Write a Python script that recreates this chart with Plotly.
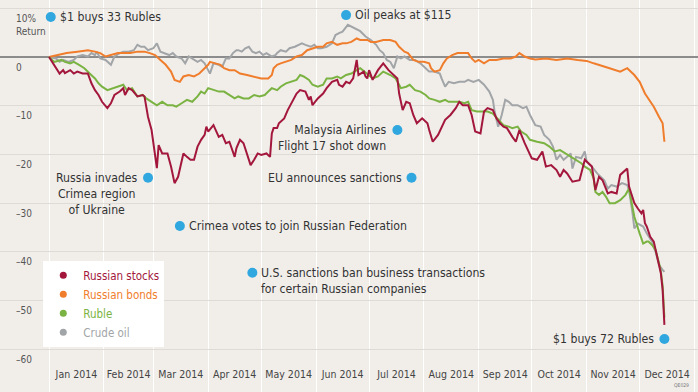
import plotly.graph_objects as go

# ---------------- data ----------------
stocks_dates = ["2014-01-01","2014-01-06","2014-01-07","2014-01-09","2014-01-10","2014-01-13","2014-01-15","2014-01-17","2014-01-20","2014-01-23","2014-01-25","2014-01-27","2014-01-29","2014-01-31","2014-02-03","2014-02-05","2014-02-07","2014-02-10","2014-02-12","2014-02-13","2014-02-15","2014-02-17","2014-02-20","2014-02-23","2014-02-24","2014-02-26","2014-02-28","2014-03-03","2014-03-04","2014-03-06","2014-03-09","2014-03-11","2014-03-13","2014-03-15","2014-03-18","2014-03-20","2014-03-22","2014-03-24","2014-03-26","2014-03-28","2014-03-30","2014-03-31","2014-04-01","2014-04-04","2014-04-07","2014-04-09","2014-04-11","2014-04-13","2014-04-16","2014-04-17","2014-04-19","2014-04-21","2014-04-23","2014-04-25","2014-04-27","2014-04-29","2014-05-01","2014-05-04","2014-05-06","2014-05-07","2014-05-08","2014-05-10","2014-05-11","2014-05-14","2014-05-16","2014-05-19","2014-05-21","2014-05-23","2014-05-26","2014-05-28","2014-05-29","2014-05-30","2014-06-02","2014-06-05","2014-06-07","2014-06-10","2014-06-13","2014-06-14","2014-06-16","2014-06-18","2014-06-20","2014-06-22","2014-06-24","2014-06-25","2014-06-28","2014-06-29","2014-06-30","2014-07-01","2014-07-03","2014-07-06","2014-07-09","2014-07-12","2014-07-15","2014-07-17","2014-07-18","2014-07-20","2014-07-22","2014-07-24","2014-07-26","2014-07-28","2014-07-31","2014-08-03","2014-08-04","2014-08-06","2014-08-09","2014-08-11","2014-08-13","2014-08-16","2014-08-19","2014-08-21","2014-08-23","2014-08-26","2014-08-28","2014-08-30","2014-09-02","2014-09-04","2014-09-06","2014-09-09","2014-09-11","2014-09-13","2014-09-15","2014-09-17","2014-09-19","2014-09-20","2014-09-22","2014-09-24","2014-09-27","2014-09-28","2014-10-01","2014-10-04","2014-10-07","2014-10-09","2014-10-12","2014-10-15","2014-10-17","2014-10-19","2014-10-21","2014-10-24","2014-10-28","2014-10-31","2014-11-02","2014-11-04","2014-11-06","2014-11-08","2014-11-10","2014-11-13","2014-11-15","2014-11-18","2014-11-20","2014-11-24","2014-11-25","2014-11-28","2014-11-30","2014-12-02","2014-12-03","2014-12-04","2014-12-05","2014-12-07","2014-12-09","2014-12-11","2014-12-13","2014-12-14","2014-12-15"]
stocks_values = [0,-2.7,-3.4,-2.7,-3.3,-2.7,-3.4,-3.0,-3.4,-3.4,-5.4,-6.8,-7.8,-9.2,-10.5,-9.5,-7.8,-7.1,-6.4,-7.8,-6.4,-6.8,-8.1,-7.8,-8.1,-12.3,-15.0,-22.8,-18.1,-19.8,-19.8,-22.5,-25.9,-24.6,-19.8,-20.5,-21.1,-21.1,-18.4,-17.0,-16.0,-14.3,-15.3,-14.0,-16.4,-16.0,-17.7,-17.4,-20.5,-18.7,-17.0,-17.7,-19.8,-22.2,-21.1,-19.8,-20.1,-19.8,-20.5,-15.7,-14.6,-14.6,-13.6,-12.6,-10.9,-8.8,-7.5,-6.8,-7.1,-8.8,-8.1,-9.9,-8.5,-7.5,-6.4,-5.1,-4.7,-5.7,-6.1,-5.1,-5.4,-4.4,-0.6,-3.7,-3.0,-4.0,-4.4,-2.7,-4.7,-2.7,-1.3,-2.7,-3.7,-4.4,-7.5,-10.9,-9.2,-9.5,-11.9,-13.6,-12.6,-13.6,-15.0,-17.4,-16.0,-14.3,-12.9,-11.9,-10.5,-9.2,-9.9,-9.9,-11.9,-15.3,-15.7,-11.2,-10.5,-10.9,-12.6,-13.6,-14.3,-14.6,-16.0,-16.4,-17.4,-15.0,-17.7,-18.4,-20.8,-21.1,-19.4,-22.5,-22.2,-23.2,-24.6,-23.2,-23.9,-25.6,-25.3,-21.1,-21.8,-22.5,-27.3,-24.6,-25.3,-28.0,-27.7,-28.0,-24.2,-22.9,-26.6,-30.0,-31.1,-32.1,-31.4,-34.1,-34.8,-36.9,-37.9,-41.0,-44.4,-47.8,-55.0]

bonds_dates = ["2014-01-01","2014-01-06","2014-01-11","2014-01-17","2014-01-23","2014-01-27","2014-01-30","2014-02-02","2014-02-05","2014-02-09","2014-02-12","2014-02-16","2014-02-20","2014-02-24","2014-02-27","2014-03-02","2014-03-05","2014-03-08","2014-03-11","2014-03-13","2014-03-16","2014-03-18","2014-03-21","2014-03-24","2014-03-27","2014-03-30","2014-04-01","2014-04-02","2014-04-05","2014-04-08","2014-04-10","2014-04-13","2014-04-16","2014-04-19","2014-04-23","2014-04-27","2014-05-01","2014-05-05","2014-05-07","2014-05-08","2014-05-10","2014-05-12","2014-05-15","2014-05-18","2014-05-21","2014-05-24","2014-05-27","2014-05-30","2014-06-02","2014-06-05","2014-06-07","2014-06-10","2014-06-13","2014-06-16","2014-06-18","2014-06-21","2014-06-24","2014-06-26","2014-06-30","2014-07-02","2014-07-05","2014-07-09","2014-07-13","2014-07-16","2014-07-18","2014-07-21","2014-07-23","2014-07-26","2014-07-29","2014-08-01","2014-08-04","2014-08-05","2014-08-07","2014-08-10","2014-08-12","2014-08-14","2014-08-17","2014-08-20","2014-08-24","2014-08-26","2014-08-28","2014-08-30","2014-09-01","2014-09-04","2014-09-07","2014-09-11","2014-09-15","2014-09-19","2014-09-22","2014-09-24","2014-09-27","2014-09-30","2014-10-03","2014-10-09","2014-10-15","2014-10-21","2014-10-27","2014-11-01","2014-11-05","2014-11-08","2014-11-14","2014-11-20","2014-11-24","2014-11-28","2014-12-01","2014-12-04","2014-12-06","2014-12-09","2014-12-12","2014-12-14","2014-12-15"]
bonds_values = [0,0.4,0.8,1.1,1.4,1.1,0.8,0.1,0.4,0.8,0.8,0.8,1.1,1.1,0.8,0.4,-0.6,-1.6,-3.0,-4.7,-5.1,-4.0,-3.7,-4.0,-3.4,-2.3,-1.6,-1.0,-1.3,-1.6,-2.3,-2.7,-2.7,-3.4,-3.7,-4.0,-4.4,-4.4,-3.7,-2.3,-1.6,-1.3,-1.0,-0.6,0.1,0.4,1.4,1.8,2.1,2.1,2.8,3.1,2.5,2.8,2.8,3.1,3.8,3.5,3.5,3.1,3.1,3.5,3.5,3.1,2.1,1.1,0.8,-0.6,-1.0,-1.0,-1.3,-2.3,-3.0,-2.7,-1.3,-0.3,0.4,0.8,0.8,0.8,-0.3,-1.0,-0.6,-1.3,-0.6,-0.6,-0.3,-0.3,0.1,0.8,0.1,-0.3,-0.5,-0.3,-0.6,-0.3,-0.6,-0.8,-1.3,-1.6,-2.3,-3.0,-2.3,-3.7,-5.1,-7.5,-8.5,-10.2,-12.3,-13.6,-17.4]

ruble_dates = ["2014-01-01","2014-01-04","2014-01-08","2014-01-10","2014-01-13","2014-01-15","2014-01-18","2014-01-21","2014-01-24","2014-01-27","2014-01-29","2014-01-31","2014-02-03","2014-02-06","2014-02-09","2014-02-12","2014-02-14","2014-02-17","2014-02-20","2014-02-23","2014-02-25","2014-02-28","2014-03-03","2014-03-06","2014-03-09","2014-03-12","2014-03-14","2014-03-17","2014-03-20","2014-03-23","2014-03-26","2014-03-28","2014-03-30","2014-04-01","2014-04-04","2014-04-07","2014-04-10","2014-04-13","2014-04-16","2014-04-18","2014-04-21","2014-04-24","2014-04-27","2014-04-30","2014-05-03","2014-05-05","2014-05-07","2014-05-10","2014-05-12","2014-05-15","2014-05-18","2014-05-21","2014-05-23","2014-05-25","2014-05-28","2014-05-30","2014-06-02","2014-06-05","2014-06-07","2014-06-10","2014-06-13","2014-06-15","2014-06-18","2014-06-21","2014-06-24","2014-06-26","2014-06-29","2014-07-03","2014-07-06","2014-07-09","2014-07-13","2014-07-16","2014-07-18","2014-07-19","2014-07-22","2014-07-24","2014-07-27","2014-07-30","2014-08-02","2014-08-04","2014-08-07","2014-08-10","2014-08-13","2014-08-15","2014-08-18","2014-08-21","2014-08-24","2014-08-26","2014-08-28","2014-08-31","2014-09-04","2014-09-06","2014-09-09","2014-09-12","2014-09-15","2014-09-18","2014-09-20","2014-09-23","2014-09-25","2014-09-28","2014-09-30","2014-10-04","2014-10-08","2014-10-11","2014-10-14","2014-10-17","2014-10-20","2014-10-23","2014-10-26","2014-10-29","2014-10-31","2014-11-03","2014-11-05","2014-11-06","2014-11-08","2014-11-10","2014-11-12","2014-11-14","2014-11-17","2014-11-20","2014-11-23","2014-11-25","2014-11-26","2014-11-28","2014-12-01","2014-12-03","2014-12-05","2014-12-06","2014-12-08","2014-12-10","2014-12-12","2014-12-13","2014-12-14","2014-12-15"]
ruble_values = [0,-1.0,-0.6,-1.0,-1.3,-1.0,-1.6,-2.3,-3.4,-4.4,-5.4,-6.1,-6.8,-6.4,-6.1,-5.7,-6.8,-6.4,-8.1,-7.8,-8.5,-9.2,-9.9,-9.2,-9.9,-9.9,-10.2,-9.5,-8.8,-9.2,-8.1,-7.1,-7.5,-6.4,-6.8,-7.1,-7.1,-7.8,-8.5,-8.1,-8.5,-8.5,-7.8,-8.1,-7.8,-7.1,-6.4,-6.8,-6.1,-5.4,-5.1,-4.7,-3.7,-4.0,-4.7,-5.7,-6.1,-5.7,-4.4,-4.4,-4.0,-4.4,-3.7,-3.4,-2.7,-2.3,-3.2,-4.4,-4.0,-3.0,-3.7,-4.4,-5.7,-6.4,-6.1,-5.7,-6.8,-7.1,-7.8,-8.5,-8.8,-9.2,-8.8,-9.2,-9.2,-9.2,-9.5,-9.2,-10.9,-11.2,-11.2,-11.2,-11.6,-12.9,-14.0,-14.3,-14.6,-14.3,-15.3,-16.0,-17.0,-17.4,-17.7,-18.4,-19.4,-19.1,-19.8,-20.5,-21.1,-21.8,-22.5,-23.2,-24.9,-27.7,-28.3,-27.7,-28.7,-30.0,-30.0,-29.4,-28.3,-27.0,-29.0,-32.8,-36.2,-38.3,-37.9,-37.9,-38.6,-39.6,-42.4,-44.0,-47.0,-53.5]

oil_dates = ["2014-01-01","2014-01-05","2014-01-07","2014-01-09","2014-01-12","2014-01-15","2014-01-17","2014-01-20","2014-01-23","2014-01-25","2014-01-27","2014-01-28","2014-01-30","2014-02-02","2014-02-05","2014-02-07","2014-02-10","2014-02-12","2014-02-15","2014-02-18","2014-02-20","2014-02-22","2014-02-24","2014-02-26","2014-03-01","2014-03-03","2014-03-05","2014-03-07","2014-03-10","2014-03-12","2014-03-14","2014-03-17","2014-03-19","2014-03-21","2014-03-24","2014-03-26","2014-03-28","2014-03-30","2014-04-01","2014-04-02","2014-04-04","2014-04-07","2014-04-09","2014-04-11","2014-04-13","2014-04-15","2014-04-17","2014-04-18","2014-04-20","2014-04-22","2014-04-24","2014-04-26","2014-04-28","2014-04-30","2014-05-02","2014-05-04","2014-05-07","2014-05-09","2014-05-10","2014-05-12","2014-05-15","2014-05-17","2014-05-20","2014-05-22","2014-05-24","2014-05-26","2014-05-29","2014-05-31","2014-06-02","2014-06-04","2014-06-07","2014-06-10","2014-06-12","2014-06-14","2014-06-16","2014-06-19","2014-06-21","2014-06-23","2014-06-26","2014-06-29","2014-07-02","2014-07-05","2014-07-07","2014-07-09","2014-07-11","2014-07-13","2014-07-15","2014-07-17","2014-07-19","2014-07-21","2014-07-24","2014-07-27","2014-07-30","2014-08-02","2014-08-04","2014-08-07","2014-08-10","2014-08-11","2014-08-13","2014-08-15","2014-08-18","2014-08-21","2014-08-24","2014-08-26","2014-08-29","2014-09-01","2014-09-04","2014-09-07","2014-09-09","2014-09-10","2014-09-12","2014-09-14","2014-09-16","2014-09-18","2014-09-20","2014-09-23","2014-09-26","2014-09-28","2014-09-30","2014-10-03","2014-10-06","2014-10-08","2014-10-11","2014-10-13","2014-10-15","2014-10-17","2014-10-19","2014-10-21","2014-10-23","2014-10-24","2014-10-26","2014-10-29","2014-10-31","2014-11-01","2014-11-04","2014-11-07","2014-11-09","2014-11-11","2014-11-13","2014-11-15","2014-11-18","2014-11-21","2014-11-24","2014-11-25","2014-11-27","2014-11-28","2014-11-30","2014-12-03","2014-12-05","2014-12-08","2014-12-10","2014-12-12","2014-12-14","2014-12-15"]
oil_values = [0,-0.3,-1.0,-0.6,-1.0,-0.6,0.1,0.4,0.1,0.8,0.4,1.1,-0.3,-0.6,-1.6,0.1,0.8,1.1,1.1,1.4,2.5,2.1,2.1,1.4,1.8,2.8,1.1,0.8,0.4,0.8,0.1,-0.3,-1.3,0.1,-0.6,-1.0,-0.6,-1.3,-2.7,-3.4,-1.3,-1.6,-2.0,-0.3,-0.3,0.8,1.4,1.4,1.1,1.8,2.1,1.1,0.8,1.1,0.4,0.8,0.1,0.4,0.8,1.4,1.1,1.8,2.1,2.5,2.8,2.5,2.1,2.5,1.8,1.8,2.1,2.8,4.5,4.9,5.2,6.6,6.2,5.9,5.3,4.2,3.5,2.5,1.4,0.8,-0.6,-1.0,-2.3,0.1,-0.3,0.1,-0.6,-0.6,-1.3,-2.3,-3.0,-3.0,-3.4,-4.4,-6.1,-5.1,-5.4,-5.1,-5.1,-4.7,-5.1,-4.7,-5.7,-7.1,-8.8,-11.2,-14.3,-11.9,-8.8,-9.2,-9.9,-9.9,-10.5,-10.2,-11.9,-14.0,-14.3,-16.0,-17.0,-18.4,-21.1,-20.1,-21.1,-20.5,-19.8,-22.9,-20.5,-20.8,-19.4,-21.5,-22.5,-23.9,-24.6,-25.3,-27.0,-26.3,-26.6,-25.9,-26.3,-27.3,-32.1,-35.2,-34.2,-34.8,-36.2,-37.9,-40.0,-42.7,-43.7,-44.1]

series_names = ["Russian stocks", "Russian bonds", "Ruble", "Crude oil"]

y_tick_values = [10, 0, -10, -20, -30, -40, -50, -60]
y_tick_labels = ["<br>10%<br>Return", "0", "\u201310", "\u201320", "\u201330", "\u201340", "\u201350", "\u201360"]

event_dates = ["2014-01-02", "2014-02-26", "2014-03-16", "2014-04-26",
               "2014-06-18", "2014-07-17", "2014-07-25", "2014-12-15"]
event_labels = ["$1 buys 33 Rubles",
                "Russia invades<br>Crimea region<br>of Ukraine",
                "Crimea votes to join Russian Federation",
                "U.S. sanctions ban business transactions<br>for certain Russian companies",
                "Oil peaks at $115",
                "Malaysia Airlines<br>Flight 17 shot down",
                "EU announces sanctions",
                "$1 buys 72 Rubles"]

# ---------------- layout helpers (positions / styles) ----------------
callout_y = [8.2, -24.8, -34.7, -44.3, 8.6, -15.0, -24.8, -57.9]
callout_side = ["right", "left", "right", "right", "right", "left", "left", "left"]
callout_align = ["left", "center", "left", "left", "left", "right", "right", "right"]

FONT = "DejaVu Sans Condensed, Liberation Sans Narrow, sans-serif"
BG = "#f1eeea"
colors = {"Russian stocks": "#a3173c", "Russian bonds": "#f07d2c",
          "Ruble": "#7bb342", "Crude oil": "#a2a5a7"}
series = {"Russian stocks": (stocks_dates, stocks_values),
          "Russian bonds": (bonds_dates, bonds_values),
          "Ruble": (ruble_dates, ruble_values),
          "Crude oil": (oil_dates, oil_values)}

fig = go.Figure()

for name in ["Crude oil", "Russian bonds", "Ruble", "Russian stocks"]:
    xs, ys = series[name]
    fig.add_trace(go.Scatter(x=xs, y=ys, mode="lines", name=name,
                             line=dict(color=colors[name], width=2),
                             showlegend=False, hoverinfo="skip"))

for name in series_names:
    fig.add_trace(go.Scatter(x=[None], y=[None], mode="markers",
                             marker=dict(color=colors[name], size=7),
                             name=f"<span style='color:{colors[name]}'>{name}</span>",
                             showlegend=True))

fig.add_trace(go.Scatter(x=event_dates, y=callout_y, mode="markers",
                         marker=dict(color="#30a7de", size=10),
                         showlegend=False, hoverinfo="skip"))

ann_size = 12.2
line_h = ann_size * 1.3
for d, lab, yv, side, al in zip(event_dates, event_labels, callout_y, callout_side, callout_align):
    fig.add_annotation(x=d, y=yv, xref="x", yref="y", text=lab, showarrow=False,
                       xanchor="left" if side == "right" else "right",
                       xshift=7 if side == "right" else -8,
                       yanchor="top", yshift=line_h / 2 + 1, align=al,
                       font=dict(family=FONT, size=ann_size, color="#333333"))

fig.add_annotation(x=0.99, y=0.005, xref="paper", yref="paper", text="QE029",
                   showarrow=False, xanchor="right", yanchor="bottom",
                   font=dict(family=FONT, size=5, color="#777777"))

fig.update_layout(
    width=698, height=392,
    margin=dict(l=0, r=0, t=0, b=0),
    paper_bgcolor=BG, plot_bgcolor=BG,
    font=dict(family=FONT, color="#444444"),
    showlegend=True,
    legend=dict(x=0.062, y=0.335, xanchor="left", yanchor="top",
                bgcolor="white", borderwidth=0,
                font=dict(family=FONT, size=11.5), tracegroupgap=0),
    xaxis=dict(type="date",
               range=["2013-12-04 07:00", "2015-01-03 00:00"],
               tick0="2014-01-01", dtick="M1", tickformat="%b %Y",
               ticklabelmode="period", ticklabelposition="inside",
               ticklabelstandoff=9, tickangle=0,
               ticks="", showgrid=True, gridcolor="#ffffff", gridwidth=1.2,
               zeroline=False, showline=False,
               tickfont=dict(family=FONT, size=10.5, color="#444444")),
    yaxis=dict(range=[-68.77, 11.70], tickvals=y_tick_values, ticktext=y_tick_labels,
               ticklabelposition="inside", ticks="", ticklabelstandoff=13,
               ticklabelshift=10,
               showgrid=True, gridcolor="#dedad5", gridwidth=1,
               zeroline=True, zerolinecolor="#8c8c8c", zerolinewidth=1.5,
               showline=False,
               tickfont=dict(family=FONT, size=10, color="#555555")),
)

fig.write_html("out.html", config={"displayModeBar": False},
               post_script="document.body.style.margin='0';document.body.style.overflow='hidden';")
